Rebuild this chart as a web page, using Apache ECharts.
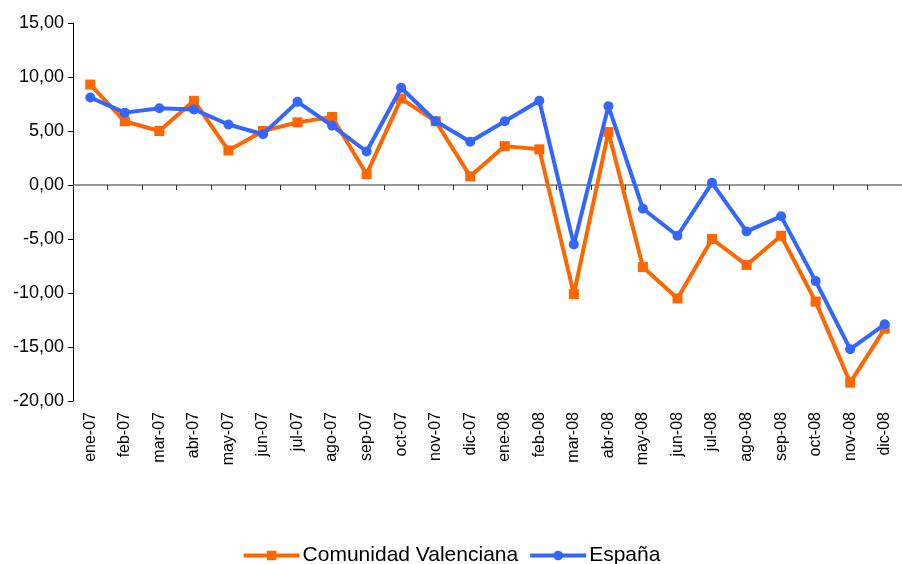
<!DOCTYPE html>
<html>
<head>
<meta charset="utf-8">
<script src="https://cdn.jsdelivr.net/npm/echarts@6/dist/echarts.min.js"></script>
<style>
  html, body { margin: 0; padding: 0; background: #fff; }
  #chart { width: 902px; height: 564px; }
</style>
</head>
<body>
<div id="chart"></div>
<script>
var months = ["ene-07", "feb-07", "mar-07", "abr-07", "may-07", "jun-07", "jul-07", "ago-07",
              "sep-07", "oct-07", "nov-07", "dic-07", "ene-08", "feb-08", "mar-08", "abr-08",
              "may-08", "jun-08", "jul-08", "ago-08", "sep-08", "oct-08", "nov-08", "dic-08"];
var valenciana = [9.3, 5.9, 5.0, 7.8, 3.2, 5.0, 5.8, 6.3, 1.0, 8.0, 5.9, 0.8,
                  3.6, 3.3, -10.1, 4.9, -7.6, -10.5, -5.0, -7.4, -4.7, -10.8, -18.3, -13.3];
var espana = [8.1, 6.7, 7.1, 7.0, 5.6, 4.7, 7.7, 5.5, 3.1, 9.0, 5.9, 4.0,
              5.9, 7.8, -5.5, 7.3, -2.2, -4.7, 0.2, -4.3, -2.9, -8.9, -15.2, -12.9];

var FONT = "Liberation Sans, Arial, sans-serif";
var chart = echarts.init(document.getElementById("chart"));

var option = {
    animation: false,
    backgroundColor: "#fff",
    grid: {
        left: 73,
        top: 23,
        width: 837,
        height: 378
    },
    legend: {
        top: 540,
        left: "center",
        itemWidth: 56,
        itemHeight: 12,
        itemGap: 10,
        lineStyle: {width: 4},
        textStyle: {fontFamily: FONT, fontSize: 21, color: "#000", padding: [0, 0, 0, -2]},
        data: ["Comunidad Valenciana", "España"]
    },
    xAxis: [
        {
            type: "category",
            data: months,
            boundaryGap: true,
            axisLine: {onZero: true, lineStyle: {color: "#777", width: 1.5}},
            axisTick: {show: true, interval: 0, length: 5, lineStyle: {color: "#333"}},
            axisLabel: {show: false},
            splitLine: {show: false}
        },
        {
            type: "category",
            data: months,
            position: "bottom",
            boundaryGap: true,
            axisLine: {show: false, onZero: false},
            axisTick: {show: false},
            axisLabel: {
                show: true,
                interval: 0,
                rotate: 90,
                margin: 11,
                fontFamily: FONT,
                fontSize: 16,
                color: "#000"
            }
        }
    ],
    yAxis: {
        type: "value",
        min: -20,
        max: 15,
        interval: 5,
        axisLine: {show: true, lineStyle: {color: "#000", width: 1}},
        axisTick: {show: true, length: 5, lineStyle: {color: "#000"}},
        splitLine: {show: false},
        axisLabel: {
            margin: 9,
            fontFamily: FONT,
            fontSize: 18,
            color: "#000",
            formatter: function (v) {
                return v.toFixed(2).replace(".", ",");
            }
        }
    },
    series: [
        {
            name: "Comunidad Valenciana",
            type: "line",
            xAxisIndex: 0,
            data: valenciana,
            symbol: "rect",
            symbolSize: 10,
            color: "#FF6600",
            lineStyle: {width: 4, color: "#FF6600"},
            itemStyle: {color: "#FF6600"},
            z: 2
        },
        {
            name: "España",
            type: "line",
            xAxisIndex: 0,
            data: espana,
            symbol: "circle",
            symbolSize: 10,
            color: "#3366FF",
            lineStyle: {width: 4, color: "#3366FF"},
            itemStyle: {color: "#3366FF"},
            z: 3
        }
    ]
};

chart.setOption(option);
</script>
</body>
</html>
